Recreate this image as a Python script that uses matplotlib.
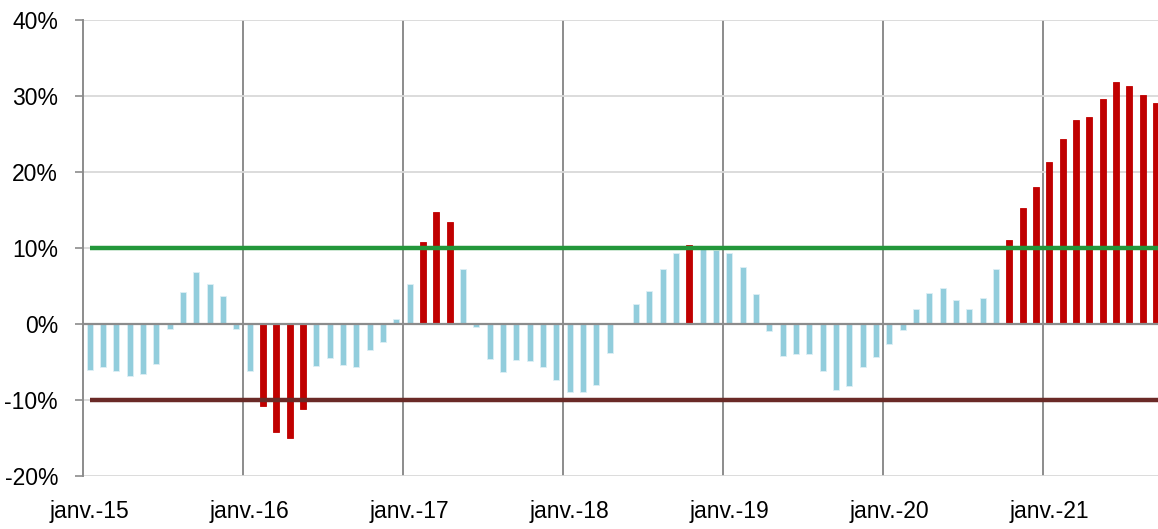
import numpy as np
import matplotlib.pyplot as plt

plt.rcParams['font.family'] = ['Liberation Sans', 'DejaVu Sans']

# monthly year-on-year change (%), janv. 2015 -> sept. 2021
y2015 = [-6.0, -5.6, -6.2, -6.8, -6.6, -5.3, -0.7, 4.2, 6.9, 5.3, 3.7, -0.6]
y2016 = [-6.2, -10.8, -14.2, -15.0, -11.2, -5.5, -4.5, -5.4, -5.6, -3.4, -2.4, 0.7]
y2017 = [5.2, 10.8, 14.7, 13.4, 7.3, -0.35, -4.6, -6.3, -4.8, -4.9, -5.6, -7.4]
y2018 = [-9.0, -9.0, -8.0, -3.8, 0.0, 2.6, 4.3, 7.3, 9.3, 10.4, 9.9, 9.8]
y2019 = [9.4, 7.5, 3.9, -0.9, -4.2, -4.0, -4.0, -6.2, -8.7, -8.1, -5.7, -4.3]
y2020 = [-2.6, -0.8, 2.0, 4.05, 4.8, 3.2, 2.0, 3.4, 7.2, 11.0, 15.2, 18.0]
y2021 = [21.3, 24.3, 26.8, 27.2, 29.6, 31.85, 31.3, 30.1, 29.1]

values = np.array(y2015 + y2016 + y2017 + y2018 + y2019 + y2020 + y2021)
year_labels = ["janv.-15", "janv.-16", "janv.-17", "janv.-18",
               "janv.-19", "janv.-20", "janv.-21"]
upper = 10
lower = -10
y_ticks = [-20, -10, 0, 10, 20, 30, 40]

x = np.arange(len(values))
colors = ["#C00000" if abs(v) >= 10 else "#92CDDC" for v in values]
edges = ["#C00000" if abs(v) >= 10 else "#DDEFF5" for v in values]

fig = plt.figure(figsize=(11.58, 5.29), dpi=100)
ax = fig.add_axes([83 / 1158, 53 / 529, 1 - 83 / 1158, 456 / 529])

ax.bar(x, values, width=0.45, color=colors, edgecolor=edges, linewidth=0.6, zorder=2)
ax.hlines(upper, 0, x[-1] + 1, color="#23973A", linewidth=3.2, zorder=4)
ax.hlines(lower, 0, x[-1] + 1, color="#6A2A27", linewidth=3.2, zorder=4)
ax.axhline(0, color="#8C8C8C", linewidth=1.6, zorder=3)

ax.set_xlim(-0.5, 80.15)
ax.set_ylim(-20, 40)

ax.set_yticks(y_ticks)
ax.set_yticklabels([f"{v}%" for v in y_ticks])
ax.grid(axis="y", color="#D9D9D9", linewidth=1.3, zorder=0)

ax.set_xticks(x[::12])
ax.set_xticklabels(year_labels)
ax.set_xticks(np.arange(11.5, len(values), 12), minor=True)
ax.grid(axis="x", which="minor", color="#8C8C8C", linewidth=1.4, zorder=1)
ax.tick_params(axis="x", which="both", length=0, pad=17, labelsize=16.5)
ax.tick_params(axis="y", length=6, width=1.2, color="#8C8C8C", pad=12, labelsize=16.5)

for side in ["top", "right", "bottom"]:
    ax.spines[side].set_visible(False)
ax.spines["left"].set_color("#8C8C8C")
ax.spines["left"].set_linewidth(1.4)
ax.set_axisbelow(True)

fig.savefig("out.png", dpi=100)
